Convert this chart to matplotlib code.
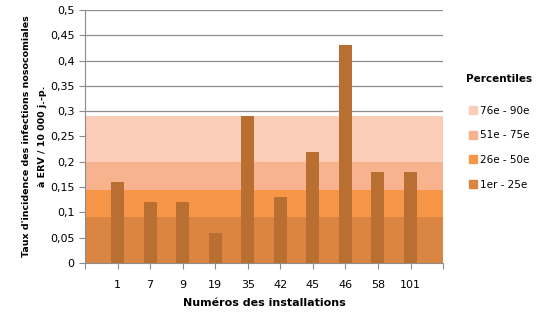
import matplotlib
matplotlib.use("Agg")
import matplotlib.pyplot as plt
from matplotlib.patches import Patch

# installations (blank slots at both ends like the original category axis)
installations = ["", "1", "7", "9", "19", "35", "42", "45", "46", "58", "101", ""]
taux = [None, 0.16, 0.12, 0.12, 0.06, 0.29, 0.13, 0.22, 0.43, 0.18, 0.18, None]

# percentile bands (upper bounds), stacked from bottom
band_labels = ["1er - 25e", "26e - 50e", "51e - 75e", "76e - 90e"]
band_tops = [0.09, 0.145, 0.20, 0.29]
band_colors = ["#DA8541", "#F79646", "#F7B38E", "#FBCDB8"]
bar_color = "#B96E32"

fig = plt.figure(figsize=(5.45, 3.21), dpi=100)
ax = fig.add_axes([0.156, 0.181, 0.657, 0.788])

x = list(range(len(installations)))
prev = 0
for top, col in zip(band_tops, band_colors):
    ax.fill_between([x[0], x[-1]], prev, top, color=col, lw=0, zorder=2)
    prev = top

bx = [i for i, v in zip(x, taux) if v is not None]
bv = [v for v in taux if v is not None]
ax.bar(bx, bv, width=0.4, color=bar_color, zorder=3)

ax.set_xlim(x[0], x[-1])
ax.set_ylim(0, 0.5)
yt = [i * 0.05 for i in range(11)]
ax.set_yticks(yt)
ax.set_yticklabels(["0" if v == 0 else ("%g" % round(v, 2)).replace(".", ",") for v in yt], fontsize=8)
ax.set_xticks(x)
ax.set_xticklabels(installations, fontsize=8)
ax.yaxis.grid(True, color="#8C8C8C", lw=0.9, zorder=1)
ax.set_axisbelow(True)
for s in ["top", "right"]:
    ax.spines[s].set_visible(False)
for s in ["left", "bottom"]:
    ax.spines[s].set_color("#8C8C8C")
ax.tick_params(axis="both", colors="#8C8C8C", length=4, labelcolor="black")
ax.tick_params(axis="x", pad=8)

ax.set_xlabel("Numéros des installations", fontsize=8, fontweight="bold", labelpad=6)
ax.set_ylabel("Taux d'incidence des infections nosocomiales\nà ERV / 10 000 j.-p.",
              fontsize=6.8, fontweight="bold", labelpad=2, linespacing=2.0)

handles = [Patch(color=c, label=l) for l, c in zip(band_labels, band_colors)][::-1]
leg = fig.legend(handles=handles, title="Percentiles", loc="upper left",
                 bbox_to_anchor=(0.838, 0.80), frameon=False, fontsize=7.5,
                 title_fontproperties={"weight": "bold", "size": 7.5},
                 handlelength=0.8, handleheight=0.8, handletextpad=0.3,
                 labelspacing=1.4)
leg._legend_box.sep = 16

fig.savefig("out.png", dpi=100)
